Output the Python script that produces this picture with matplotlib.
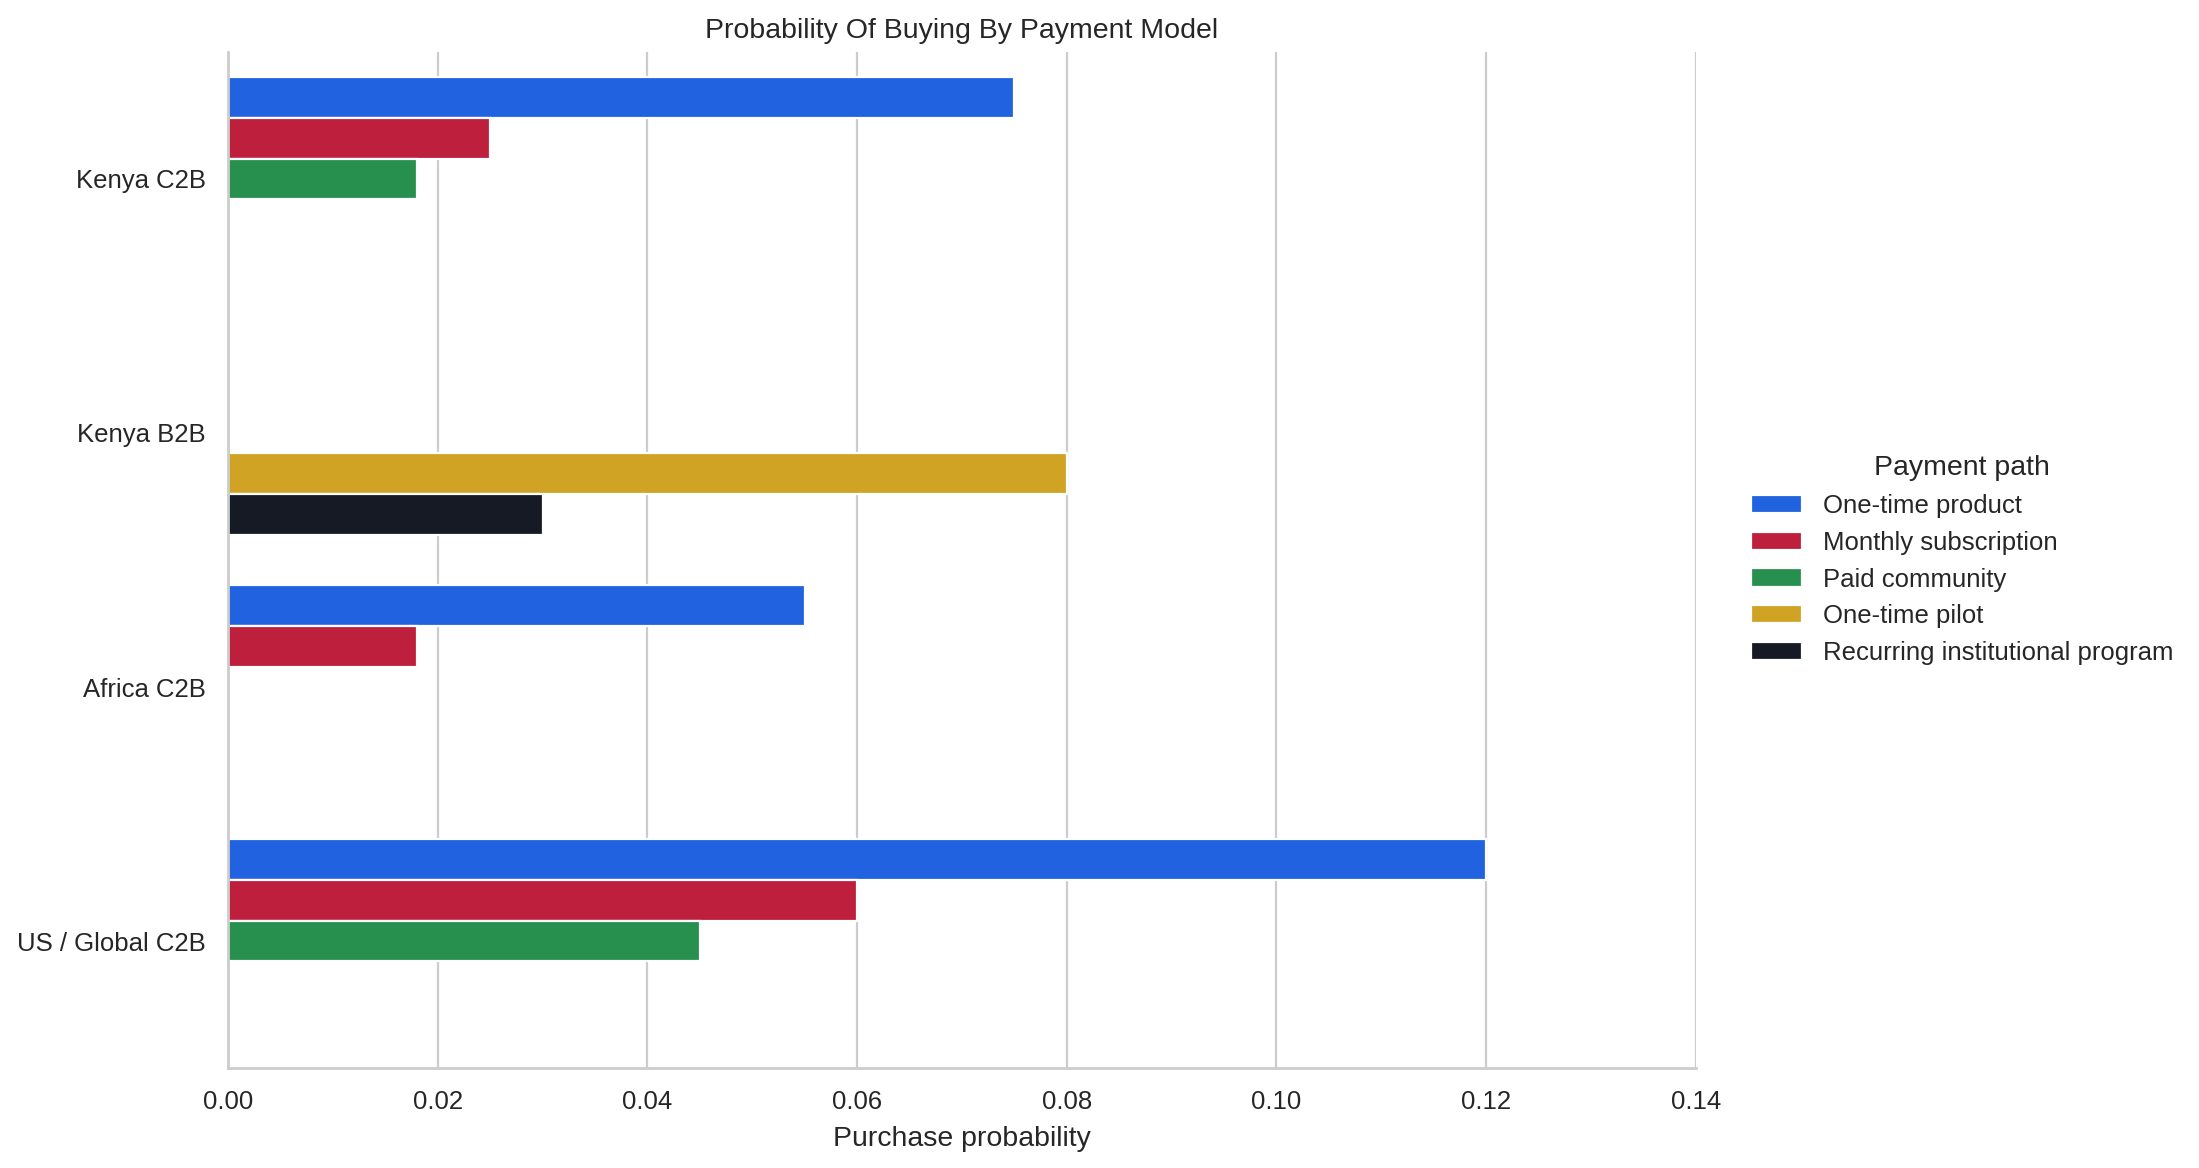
import numpy as np
import matplotlib.pyplot as plt
from matplotlib.patches import Patch

# Plot configuration
DPI = 160
FS_TICK = 11.6
FS_LABEL = 12.8
GRID_C = "#cccccc"
TEXT_C = "#262626"

segments = ["Kenya C2B", "Kenya B2B", "Africa C2B", "US / Global C2B"]
payment_paths = [
    "One-time product",
    "Monthly subscription",
    "Paid community",
    "One-time pilot",
    "Recurring institutional program",
]
colors = ["#2062e0", "#be1f3c", "#28904f", "#d0a324", "#161a24"]

# purchase probability per payment path, one entry per segment (nan = no bar)
one_time_product = [0.075, np.nan, 0.055, 0.12]
monthly_subscription = [0.025, np.nan, 0.018, 0.06]
paid_community = [0.018, np.nan, np.nan, 0.045]
one_time_pilot = [np.nan, 0.08, np.nan, np.nan]
recurring_program = [np.nan, 0.03, np.nan, np.nan]

series = [one_time_product, monthly_subscription, paid_community,
          one_time_pilot, recurring_program]

plt.rcParams["font.family"] = ["Liberation Sans", "DejaVu Sans"]
plt.rcParams["text.color"] = TEXT_C
plt.rcParams["axes.labelcolor"] = TEXT_C
plt.rcParams["xtick.color"] = TEXT_C
plt.rcParams["ytick.color"] = TEXT_C

fig = plt.figure(figsize=(2199 / DPI, 1168 / DPI), dpi=DPI)
ax = fig.add_axes([0.1037, 0.0856, 0.7712 - 0.1037, 0.9555 - 0.0856])

n_hue = len(series)
width = 0.8 / n_hue
y = np.arange(len(segments))
for jj, (vals, c) in enumerate(zip(series, colors)):
    offs = -0.4 + (jj + 0.5) * width
    ax.barh(y + offs, vals, height=width, color=c, edgecolor="white",
            linewidth=1.0, zorder=2)

ax.set_xlim(0, 0.14)
ax.set_ylim(3.5, -0.5)
ax.set_xticks(np.arange(0, 0.141, 0.02))
ax.set_xticklabels([f"{v:.2f}" for v in np.arange(0, 0.141, 0.02)])
ax.set_yticks(y)
ax.set_yticklabels(segments)
ax.tick_params(axis="both", length=0, pad=10, labelsize=FS_TICK)

ax.grid(axis="x", color=GRID_C, linewidth=1.0, zorder=0)
ax.set_axisbelow(True)
for side in ["top", "right"]:
    ax.spines[side].set_visible(False)
for side in ["left", "bottom"]:
    ax.spines[side].set_color(GRID_C)
    ax.spines[side].set_linewidth(1.25)

ax.set_xlabel("Purchase probability", fontsize=FS_LABEL, labelpad=5.5)
ax.set_title("Probability Of Buying By Payment Model", fontsize=FS_LABEL, pad=6.5)

handles = [Patch(facecolor=c, edgecolor="white", linewidth=1.0) for c in colors]
leg = fig.legend(handles, payment_paths, title="Payment path",
                 loc="center left", bbox_to_anchor=(0.7856, 0.5205),
                 frameon=False, fontsize=FS_TICK, title_fontsize=FS_LABEL)

fig.savefig("out.png", dpi=DPI)
